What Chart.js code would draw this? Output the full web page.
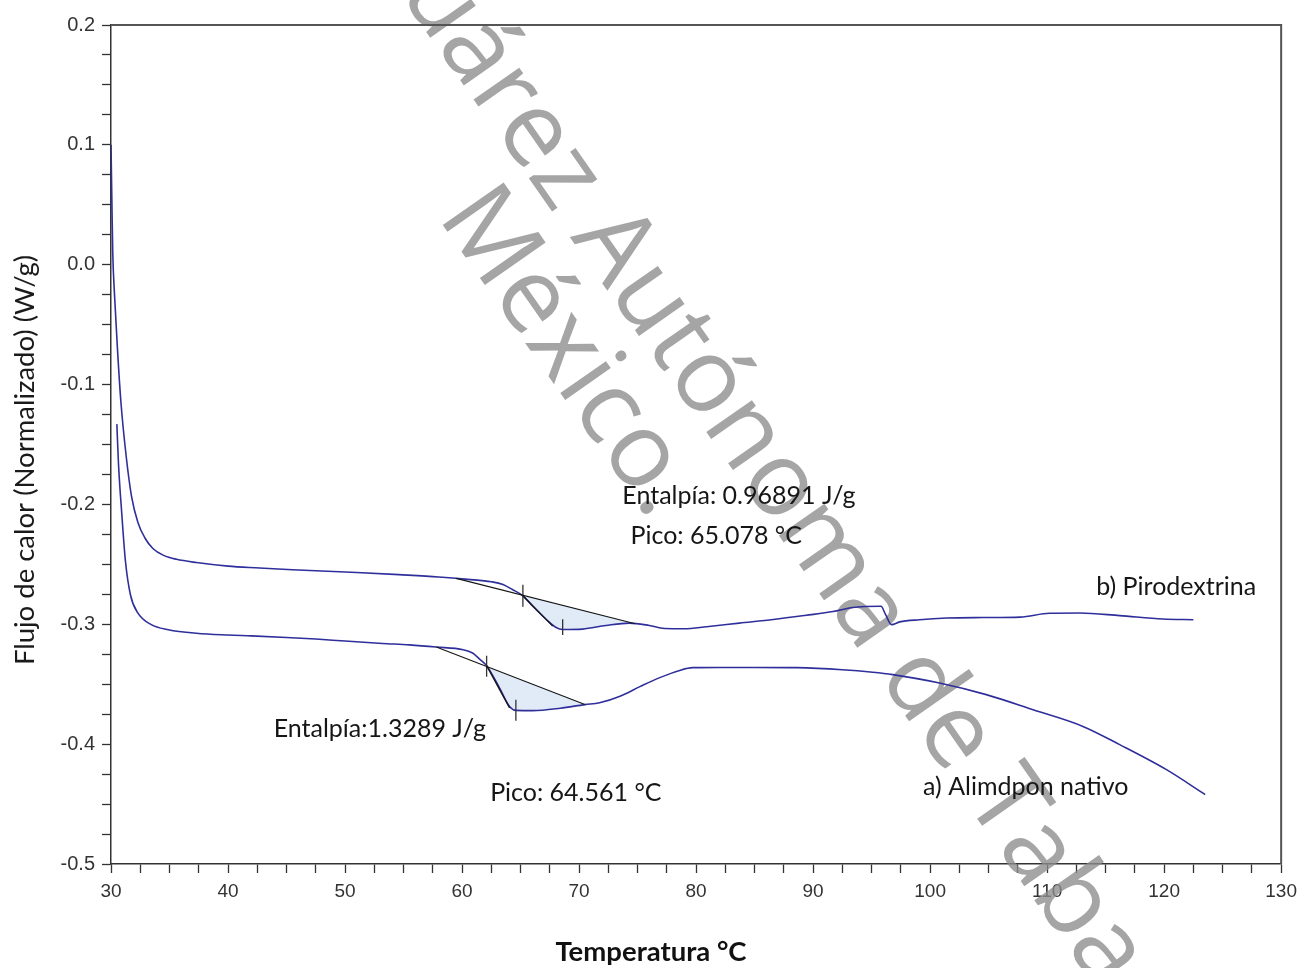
<!DOCTYPE html>
<html>
<head>
<meta charset="utf-8">
<script src="https://cdn.jsdelivr.net/npm/chart.js@4.4.1/dist/chart.umd.min.js"></script>
<style>
body{margin:0;background:#fff;}
#wrap{width:1304px;height:968px;}
</style>
</head>
<body>
<div id="wrap"><canvas id="dsc" width="1304" height="968"></canvas></div>
<script>

// b) Pirodextrina
let tempB=[30.0,30.08,30.15,30.3,30.55,30.85,31.3,31.75,32.3,32.9,33.6,34.5,35.6,37.3,40.0,42.7,45.5,48.0,51.0,54.6,58.0,60.5,62.5,63.5,64.3,65.2,66.05,67.2,68.0,68.6,70.3,72.3,74.3,76.0,77.3,79.0,80.9,83.7,86.6,89.4,91.7,93.4,95.8,96.2,96.7,97.4,99.1,101.4,104.5,107.7,110.2,112.8,116.2,119.9,122.5];
let flowB=[0.100,0.050,0.010,-0.025,-0.070,-0.115,-0.160,-0.193,-0.215,-0.228,-0.237,-0.2425,-0.2458,-0.2485,-0.2515,-0.2530,-0.2545,-0.2555,-0.2568,-0.2586,-0.2605,-0.2625,-0.2645,-0.2668,-0.2710,-0.2762,-0.2850,-0.2960,-0.3025,-0.3044,-0.3040,-0.3010,-0.2990,-0.3010,-0.3035,-0.3037,-0.3020,-0.2990,-0.2960,-0.2925,-0.2894,-0.2860,-0.2850,-0.2920,-0.3003,-0.2980,-0.2962,-0.2948,-0.2944,-0.2940,-0.2908,-0.2906,-0.2928,-0.2956,-0.2962];

// a) Alimdpon nativo
let tempA=[30.5,30.64,30.93,31.23,31.67,32.26,33.44,34.9,37.3,40.0,42.0,45.0,47.5,50.0,53.2,55.5,57.8,60.1,60.9,61.5,62.1,63.2,64.06,64.6,66.05,68.4,70.5,71.75,73.5,75.2,76.9,78.6,79.7,82.0,85.0,88.6,92.5,95.1,96.8,100.8,104.8,108.8,113.06,116.2,120.2,123.5];
let flowA=[-0.133,-0.166,-0.209,-0.247,-0.2758,-0.2900,-0.3003,-0.3045,-0.3075,-0.3090,-0.3097,-0.3110,-0.3123,-0.3140,-0.3160,-0.3172,-0.3190,-0.3212,-0.3240,-0.3290,-0.3345,-0.3530,-0.3685,-0.3718,-0.3720,-0.3700,-0.3670,-0.3655,-0.3600,-0.3520,-0.3445,-0.3385,-0.3362,-0.3360,-0.3360,-0.3362,-0.3379,-0.3400,-0.3420,-0.3490,-0.3587,-0.3713,-0.3852,-0.4004,-0.4213,-0.4420];

// integration baselines and onset tangents
let baseTempB=[59.5,74.8], baseFlowB=[-0.2617,-0.2995];
let slopeTempB=[65.2,67.75], slopeFlowB=[-0.2762,-0.3015];
let baseTempA=[57.8,70.5], baseFlowA=[-0.3190,-0.3670];
let slopeTempA=[62.1,64.06], slopeFlowA=[-0.3345,-0.3698];

// onset / peak markers
let markTemp=[65.2,68.6,62.1,64.6];
let markHigh=[-0.2670,-0.2957,-0.3262,-0.3630];
let markLow=[-0.2853,-0.3090,-0.3437,-0.3805];

let notes=[
 {text:'Entalpía: 0.96891 J/g',x:73.7,y:-0.1925},
 {text:'Pico: 65.078 °C',x:74.4,y:-0.2262},
 {text:'b) Pirodextrina',x:114.2,y:-0.2685},
 {text:'Entalpía:1.3289 J/g',x:43.9,y:-0.3875},
 {text:'Pico: 64.561 °C',x:62.4,y:-0.4405},
 {text:'a) Alimdpon nativo',x:99.4,y:-0.4355}
];

function pts(t,f){
 return t.map((v,i)=>({x:v,y:f[i]}));
}

function baseAt(bt,bf,t){
 return bf[0]+(bf[1]-bf[0])*(t-bt[0])/(bt[1]-bt[0]);
}

// closed region between curve and baseline, onset to end
function shade(t,f,bt,bf,t0,t1){
 let p=[{x:t0,y:baseAt(bt,bf,t0)}];
 t.forEach((v,i)=>{ if(v>t0 && v<t1) p.push({x:v,y:f[i]}); });
 p.push({x:t1,y:baseAt(bt,bf,t1)});
 return p;
}

let curveColor='#2f2f9c';
let datasets=[
 {data:pts(tempB,flowB),borderColor:curveColor,borderWidth:1.6,cubicInterpolationMode:'monotone',order:1},
 {data:pts(tempA,flowA),borderColor:curveColor,borderWidth:1.6,cubicInterpolationMode:'monotone',order:1},
 {data:pts(baseTempB,baseFlowB),borderColor:'#151515',borderWidth:1.1,order:0},
 {data:pts(slopeTempB,slopeFlowB),borderColor:'#151515',borderWidth:1.3,order:0},
 {data:pts(baseTempA,baseFlowA),borderColor:'#151515',borderWidth:1.1,order:0},
 {data:pts(slopeTempA,slopeFlowA),borderColor:'#151515',borderWidth:1.3,order:0}
];
markTemp.forEach((t,i)=>{
 datasets.push({data:[{x:t,y:markHigh[i]},{x:t,y:markLow[i]}],borderColor:'#333',borderWidth:1.3,order:0});
});
datasets.push({data:shade(tempB,flowB,baseTempB,baseFlowB,65.2,74.6),fill:'shape',borderWidth:0,borderColor:'rgba(0,0,0,0)',backgroundColor:'rgba(222,233,247,0.9)',order:5});
datasets.push({data:shade(tempA,flowA,baseTempA,baseFlowA,62.1,70.5),fill:'shape',borderWidth:0,borderColor:'rgba(0,0,0,0)',backgroundColor:'rgba(222,233,247,0.9)',order:5});

let frame={
 id:'frame',
 afterDraw(chart){
  let a=chart.chartArea, ctx=chart.ctx;
  ctx.save();
  ctx.strokeStyle='#555';
  ctx.lineWidth=2;
  ctx.beginPath();
  ctx.moveTo(a.left,a.top);
  ctx.lineTo(a.right,a.top);
  ctx.lineTo(a.right,a.bottom);
  ctx.stroke();
  ctx.restore();
 }
};

let watermark={
 id:'watermark',
 beforeDatasetsDraw(chart){
  let ctx=chart.ctx;
  ctx.save();
  ctx.font='104px "Open Sans"';
  ctx.fillStyle='rgba(140,140,140,0.78)';
  ctx.textBaseline='middle';
  ctx.textAlign='left';
  let ang=55*Math.PI/180, c=Math.cos(ang), s=Math.sin(ang);
  let pre=ctx.measureText('Universidad Juárez ').width+ctx.measureText('A').width/2;
  ctx.setTransform(c,s,-s,c,613-pre*c,247-pre*s);
  ctx.fillText('Universidad Juárez Autónoma de Tabasco.',0,0);
  pre=ctx.measureText('M').width/2;
  ctx.setTransform(c,s,-s,c,488-pre*c,238-pre*s);
  ctx.fillText('México.',0,0);
  ctx.restore();
 }
};

let labels={
 id:'labels',
 afterDatasetsDraw(chart){
  let ctx=chart.ctx, sx=chart.scales.x, sy=chart.scales.y;
  ctx.save();
  ctx.fillStyle='#161616';
  ctx.font='25px Lato';
  ctx.textBaseline='middle';
  ctx.textAlign='left';
  notes.forEach(n=>{
   ctx.fillText(n.text,sx.getPixelForValue(n.x),sy.getPixelForValue(n.y));
  });
  ctx.textAlign='center';
  ctx.font='bold 27.5px Lato';
  ctx.fillStyle='#111';
  ctx.fillText('Temperatura °C',651,952);
  ctx.translate(25,460);
  ctx.rotate(-Math.PI/2);
  ctx.font='27.5px Lato';
  ctx.fillStyle='#1a1a1a';
  ctx.fillText('Flujo de calor (Normalizado) (W/g)',0,0);
  ctx.restore();
 }
};

new Chart(document.getElementById('dsc'),{
 type:'line',
 data:{datasets:datasets},
 options:{
  responsive:false,
  animation:false,
  events:[],
  layout:{padding:{top:25,right:21,left:0,bottom:0}},
  elements:{point:{radius:0},line:{fill:false,tension:0}},
  plugins:{legend:{display:false},tooltip:{enabled:false}},
  scales:{
   x:{
    type:'linear',min:30,max:130,
    ticks:{stepSize:2.5,autoSkip:false,maxRotation:0,padding:7,color:'#333',
     font:{family:'"Liberation Sans", Arial',size:19},
     callback:v=>(v%10===0?String(v):'')},
    grid:{drawOnChartArea:false,tickLength:9,tickColor:'#333',tickWidth:1.3},
    border:{color:'#333',width:1.5},
    afterFit:s=>{s.height=104;}
   },
   y:{
    type:'linear',min:-0.5,max:0.2,
    ticks:{stepSize:0.025,autoSkip:false,maxTicksLimit:100,padding:7,color:'#333',
     font:{family:'"Liberation Sans", Arial',size:20},
     callback:v=>{
      let r=Math.round(v*10)/10;
      return Math.abs(v-r)<1e-6?r.toFixed(1):'';
     }},
    grid:{drawOnChartArea:false,tickLength:9,tickColor:'#333',tickWidth:1.3},
    border:{color:'#333',width:1.5},
    afterFit:s=>{s.height=s.height;s.width=111;}
   }
  }
 },
 plugins:[frame,watermark,labels]
});
</script>
</body>
</html>
